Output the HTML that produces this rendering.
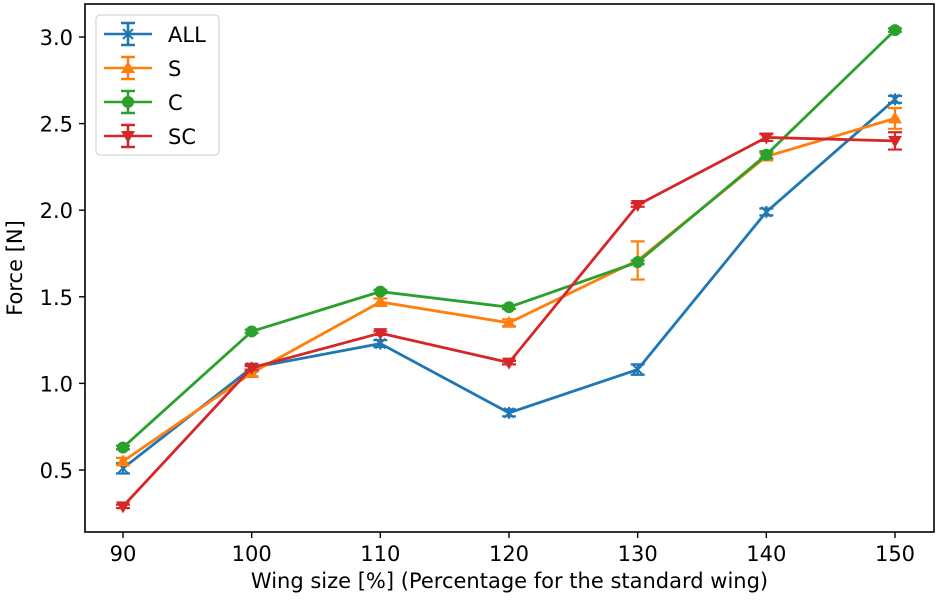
<!DOCTYPE html>
<html><head><meta charset="utf-8"><style>
body{margin:0;background:#fff}
svg text{font-family:"DejaVu Sans","Liberation Sans",sans-serif;fill:#000}
</style></head><body>
<svg id="chart" width="940" height="600" xmlns="http://www.w3.org/2000/svg"></svg>
<script>
const categories=[90,100,110,120,130,140,150];
const seriesNames=["ALL","S","C","SC"];
const allValues=[0.51,1.09,1.23,0.83,1.08,1.99,2.64];
const allErrors=[0.03,0.02,0.02,0.02,0.03,0.02,0.02];
const sValues=[0.55,1.06,1.47,1.35,1.71,2.31,2.53];
const sErrors=[0.02,0.02,0.02,0.02,0.11,0.02,0.06];
const cValues=[0.63,1.30,1.53,1.44,1.70,2.32,3.04];
const cErrors=[0.01,0.01,0.01,0.01,0.01,0.02,0.01];
const scValues=[0.29,1.09,1.29,1.12,2.03,2.42,2.40];
const scErrors=[0.01,0.01,0.01,0.01,0.01,0.02,0.05];
const xTicks=[90,100,110,120,130,140,150];
const yTicks=[0.5,1.0,1.5,2.0,2.5,3.0];
const colors=["#1f77b4","#ff7f0e","#2ca02c","#d62728"];
const markers=["x","tri","circle","tridown"];
const values=[allValues,sValues,cValues,scValues];
const errors=[allErrors,sErrors,cErrors,scErrors];

const L=85,R=934,T=4,B=532;
const xs=v=>123+(v-90)*(895-123)/60;
const ys=v=>470-(v-0.5)*(470-37)/2.5;
const NS="http://www.w3.org/2000/svg";
const svg=document.getElementById('chart');
function mk(tag,attrs,parent){const e=document.createElementNS(NS,tag);for(const k in attrs)e.setAttribute(k,attrs[k]);(parent||svg).appendChild(e);return e;}

function marker(type,x,y,c,g){
  if(type==="x"){
    const p=mk('path',{d:`M${x-5} ${y-5}L${x+5} ${y+5}M${x-5} ${y+5}L${x+5} ${y-5}M${x} ${y-6}L${x} ${y+6}`,stroke:c,'stroke-width':2,fill:'none'},g);
    
  }else if(type==="tri"){
    const p=mk('path',{d:`M${x} ${y-7}L${x+7} ${y+5}L${x-7} ${y+5}Z`,fill:c},g);
    
  }else if(type==="circle"){
    const p=mk('circle',{cx:x,cy:y,r:6,fill:c},g);
    
  }else{
    const p=mk('path',{d:`M${x} ${y+7}L${x+7} ${y-5}L${x-7} ${y-5}Z`,fill:c},g);
    
  }
}

const frame=mk('rect',{x:L,y:T,width:R-L,height:B-T,fill:'none',stroke:'#000','stroke-width':1.6});



xTicks.forEach(t=>{
  const l=mk('line',{x1:xs(t),x2:xs(t),y1:B,y2:B+6,stroke:'#000','stroke-width':1.4});
  
  
  const tx=mk('text',{x:xs(t),y:B+29,'text-anchor':'middle','font-size':21});
  tx.textContent=t;
  
  
});
yTicks.forEach(t=>{
  const l=mk('line',{x1:L-6,x2:L,y1:ys(t),y2:ys(t),stroke:'#000','stroke-width':1.4});
  
  
  const tx=mk('text',{x:L-12,y:ys(t)+8,'text-anchor':'end','font-size':21});
  tx.textContent=t.toFixed(1);
  
  
});
const xt=mk('text',{x:(L+R)/2,y:588,'text-anchor':'middle','font-size':21});
xt.textContent="Wing size [%] (Percentage for the standard wing)";


const yt=mk('text',{x:22,y:(T+B)/2,'text-anchor':'middle','font-size':21,transform:`rotate(-90 22 ${(T+B)/2})`});
yt.textContent="Force [N]";



values.forEach((vals,si)=>{
  const c=colors[si];
  const g=mk('g',{});
  
  
  const pl=mk('polyline',{points:vals.map((v,i)=>xs(categories[i])+','+ys(v)).join(' '),fill:'none',stroke:c,'stroke-width':2.8},g);
  
  
  vals.forEach((v,i)=>{
    const x=xs(categories[i]),e=errors[si][i];
    const y1=ys(v+e),y2=ys(v-e);
    const eb=mk('path',{d:`M${x} ${y1}L${x} ${y2}M${x-7} ${y1}L${x+7} ${y1}M${x-7} ${y2}L${x+7} ${y2}`,stroke:c,'stroke-width':2.2,fill:'none'},g);
    
    
    marker(markers[si],x,ys(v),c,g);
  });
});

const lg=mk('g',{});


const lb=mk('rect',{x:96,y:15,width:123,height:140,rx:4,fill:'#fff','fill-opacity':0.8,stroke:'#ccc','stroke-width':1},lg);


seriesNames.forEach((n,i)=>{
  const y=34+i*34,c=colors[i];
  const e=mk('g',{},lg);
  
  
  mk('path',{d:`M104 ${y}L152 ${y}M128 ${y-11}L128 ${y+11}M121 ${y-11}L135 ${y-11}M121 ${y+11}L135 ${y+11}`,stroke:c,'stroke-width':2.6,fill:'none'},e);
  marker(markers[i],128,y,c,e);
  const t=mk('text',{x:168,y:y+8,'font-size':21},e);
  t.textContent=n;
});
</script>
</body></html>
